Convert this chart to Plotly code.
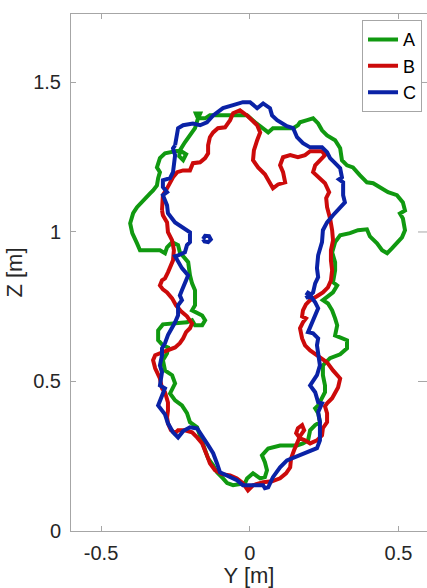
import plotly.graph_objects as go

# ---------------- data (Y, Z in metres) ----------------
a_y = [-0.174,-0.150,-0.134,-0.110,-0.056,-0.009,0.018,0.045,0.062,0.078,0.102,0.146,0.162,0.169,0.193,0.213,
       0.230,0.243,0.260,0.287,0.304,0.310,0.327,0.347,0.370,0.394,0.415,0.445,0.465,0.495,0.515,0.522,0.505,
       0.515,0.522,0.512,0.495,0.478,0.462,0.445,0.428,0.404,0.394,0.364,0.337,0.304,0.287,0.277,0.287,0.287,
       0.280,0.294,0.280,0.260,0.246,0.263,0.277,0.287,0.294,0.287,0.304,0.327,0.327,0.304,0.270,0.246,0.246,
       0.253,0.253,0.243,0.230,0.220,0.230,0.236,0.220,0.203,0.196,0.179,0.159,0.102,0.062,0.041,0.051,0.058,
       0.051,0.035,0.011,-0.009,-0.016,-0.056,-0.076,-0.090,-0.110,-0.123,-0.140,-0.150,-0.160,-0.167,-0.177,
       -0.201,-0.211,-0.228,-0.251,-0.268,-0.261,-0.251,-0.261,-0.285,-0.292,-0.278,-0.275,-0.292,-0.308,-0.308,
       -0.292,-0.258,-0.211,-0.194,-0.184,-0.160,-0.150,-0.160,-0.177,-0.194,-0.184,-0.184,-0.194,-0.201,-0.207,
       -0.218,-0.235,-0.241,-0.261,-0.278,-0.285,-0.302,-0.345,-0.369,-0.379,-0.395,-0.402,-0.392,-0.379,-0.359,
       -0.335,-0.325,-0.312,-0.308,-0.302,-0.312,-0.302,-0.285,-0.261,-0.235,-0.214,-0.224,-0.237,-0.235,-0.218,
       -0.201,-0.184,-0.174,-0.181,-0.167,-0.174]
a_z = [1.380,1.380,1.390,1.390,1.390,1.390,1.367,1.347,1.333,1.347,1.347,1.347,1.357,1.367,1.374,1.380,
       1.363,1.340,1.323,1.307,1.280,1.240,1.223,1.216,1.190,1.166,1.163,1.146,1.133,1.123,1.099,1.072,1.062,
       1.045,1.006,0.982,0.962,0.945,0.929,0.939,0.962,0.985,1.009,1.006,0.996,0.989,0.966,0.932,0.899,0.872,
       0.832,0.821,0.798,0.782,0.772,0.761,0.738,0.711,0.688,0.654,0.648,0.638,0.611,0.591,0.578,0.554,0.521,
       0.487,0.464,0.444,0.420,0.410,0.394,0.364,0.354,0.337,0.303,0.293,0.286,0.286,0.276,0.253,0.230,0.203,
       0.180,0.176,0.193,0.176,0.160,0.153,0.160,0.176,0.196,0.220,0.243,0.270,0.296,0.320,0.347,
       0.364,0.394,0.420,0.437,0.460,0.477,0.494,0.521,0.537,0.571,0.594,0.614,0.621,0.638,0.671,
       0.691,0.694,0.698,0.705,0.688,0.688,0.705,0.721,0.731,0.738,0.755,0.805,0.828,0.855,0.899,
       0.912,0.932,0.956,0.966,0.949,0.929,0.939,0.939,0.939,0.962,0.996,1.029,1.063,1.083,1.106,
       1.129,1.139,1.156,1.180,1.200,1.216,1.247,1.263,1.267,1.273,1.260,1.240,1.253,1.273,1.300,
       1.323,1.347,1.380,1.396,1.396,1.380]

b_y = [-0.295,-0.295,-0.292,-0.278,-0.268,-0.258,-0.244,-0.224,-0.201,-0.191,-0.167,-0.150,-0.140,-0.140,
       -0.134,-0.123,-0.107,-0.083,-0.066,-0.056,-0.033,-0.006,0.025,0.035,0.025,0.014,0.011,0.028,0.051,0.062,
       0.078,0.095,0.119,0.112,0.102,0.112,0.136,0.162,0.186,0.203,0.243,0.253,0.236,0.220,0.213,0.230,0.253,
       0.267,0.257,0.260,0.270,0.277,0.280,0.273,0.273,0.277,0.273,0.263,0.246,0.226,0.203,0.189,0.179,0.176,
       0.189,0.179,0.169,0.176,0.186,0.203,0.220,0.236,0.260,0.280,0.304,0.297,0.287,0.277,0.260,0.253,0.260,
       0.260,0.246,0.243,0.226,0.203,0.186,0.169,0.156,0.162,0.176,0.183,0.169,0.159,0.149,0.139,0.136,0.122,
       0.102,0.075,0.045,0.011,-0.006,-0.023,-0.043,-0.066,-0.093,-0.117,-0.134,-0.140,-0.150,-0.160,-0.177,
       -0.194,-0.218,-0.241,-0.251,-0.265,-0.275,-0.278,-0.275,-0.275,-0.285,-0.295,-0.302,-0.318,-0.325,-0.318,
       -0.292,-0.275,-0.251,-0.235,-0.224,-0.214,-0.201,-0.194,-0.211,-0.231,-0.248,-0.261,-0.278,-0.292,-0.302,
       -0.295,-0.285,-0.275,-0.268,-0.258,-0.255,-0.261,-0.275,-0.278,-0.292,-0.295]
b_z = [1.072,1.099,1.123,1.146,1.163,1.183,1.200,1.206,1.206,1.230,1.233,1.247,1.263,1.290,1.317,1.333,
       1.347,1.350,1.374,1.397,1.407,1.387,1.357,1.333,1.307,1.273,1.240,1.216,1.193,1.173,1.146,1.159,1.166,
       1.200,1.223,1.250,1.257,1.250,1.257,1.270,1.270,1.257,1.240,1.223,1.200,1.183,1.163,1.133,1.113,1.083,
       1.046,1.006,0.972,0.939,0.905,0.872,0.838,0.815,0.798,0.785,0.772,0.758,0.738,0.718,0.711,0.698,0.678,
       0.644,0.621,0.604,0.591,0.581,0.564,0.537,0.510,0.480,0.464,0.444,0.427,0.417,0.394,0.364,0.344,0.320,
       0.303,0.293,0.303,0.310,0.327,0.344,0.354,0.337,0.317,0.296,0.270,0.243,0.213,0.193,0.176,0.166,0.163,
       0.153,0.136,0.160,0.176,0.186,0.190,0.203,0.226,0.243,0.266,0.293,0.313,0.330,0.337,0.337,0.327,0.337,
       0.360,0.380,0.403,0.430,0.464,0.477,0.510,0.544,0.571,0.588,0.598,0.604,0.614,0.628,0.644,0.665,0.678,
       0.694,0.718,0.735,0.755,0.778,0.798,0.808,0.821,0.838,0.845,0.865,0.885,0.905,0.939,0.972,0.999,1.032,
       1.056,1.072]

c_y = [-0.251,-0.244,-0.241,-0.224,-0.191,-0.167,-0.144,-0.123,-0.090,-0.056,-0.023,0.001,0.025,0.045,0.068,
       0.075,0.092,0.125,0.146,0.159,0.179,0.203,0.243,0.260,0.270,0.287,0.304,0.310,0.300,0.314,0.314,0.320,
       0.304,0.280,0.260,0.246,0.243,0.230,0.226,0.230,0.220,0.213,0.203,0.220,0.230,0.220,0.203,0.196,0.213,
       0.230,0.226,0.230,0.236,0.226,0.203,0.220,0.230,0.243,0.230,0.236,0.236,0.226,0.193,0.159,0.125,0.102,
       0.078,0.062,0.051,0.045,0.011,-0.023,-0.043,-0.076,-0.100,-0.110,-0.123,-0.140,-0.157,-0.177,-0.201,
       -0.224,-0.241,-0.258,-0.275,-0.285,-0.308,-0.295,-0.285,-0.302,-0.295,-0.302,-0.295,-0.295,-0.285,
       -0.275,-0.261,-0.251,-0.241,-0.241,-0.228,-0.235,-0.228,-0.218,-0.207,-0.228,-0.241,-0.251,-0.241,
       -0.218,-0.211,-0.201,-0.201,-0.224,-0.251,-0.275,-0.278,-0.292,-0.278,-0.292,-0.292,-0.268,-0.258,
       -0.251,-0.258,-0.251,
       None, -0.157,-0.150,-0.137,-0.131,-0.140,-0.152,-0.157,
       None, 0.190,0.196,0.204,0.203,0.194,0.190]
c_z = [1.290,1.323,1.347,1.357,1.363,1.357,1.367,1.390,1.414,1.424,1.434,1.434,1.414,1.430,1.414,1.390,
       1.374,1.354,1.347,1.317,1.297,1.283,1.283,1.267,1.247,1.230,1.213,1.183,1.176,1.166,1.123,1.099,1.083,
       1.056,1.032,1.006,0.966,0.922,0.879,0.849,0.828,0.798,0.788,0.765,0.745,0.721,0.688,0.665,0.661,0.644,
       0.621,0.588,0.554,0.521,0.487,0.464,0.430,0.427,0.397,0.364,0.303,0.277,0.263,0.247,0.236,0.213,0.180,
       0.146,0.143,0.153,0.153,0.153,0.170,0.186,0.196,0.226,0.260,0.287,0.313,0.343,0.347,0.334,0.313,0.330,
       0.360,0.390,0.420,0.454,0.477,0.487,0.531,0.554,0.588,0.611,0.628,0.655,0.678,0.698,0.721,0.755,0.772,
       0.788,0.805,0.828,0.855,0.879,0.899,0.919,0.922,0.932,0.956,0.966,0.999,1.016,1.032,1.063,1.089,1.123,
       1.133,1.150,1.173,1.180,1.200,1.257,1.280,1.290,
       None, 0.976,0.987,0.986,0.975,0.966,0.968,0.976,
       None, 0.788,0.797,0.792,0.782,0.781,0.788]

series_names = ["A", "B", "C"]
series_colors = ["#109910", "#cc0a0a", "#0a22a6"]

x_tickvals = [-0.5, 0, 0.5]
x_ticktext = ["-0.5", "0", "0.5"]
y_tickvals = [0, 0.5, 1, 1.5]
y_ticktext = ["0", "0.5", "1", "1.5"]

# ---------------- figure ----------------
FONT = "Liberation Sans, Arial, sans-serif"
AXC = "#a6a6a6"
TXT = "#262626"

fig = go.Figure()
for name, xs, zs, col in zip(series_names, [a_y, b_y, c_y], [a_z, b_z, c_z], series_colors):
    fig.add_trace(go.Scatter(x=xs, y=zs, mode="lines", name=name,
                             line=dict(color=col, width=4), connectgaps=False))

# right-side inward ticks (box axis)
for tv in y_tickvals[1:]:
    fig.add_shape(type="line", xref="paper", yref="y", x0=1 - 9 / 356, x1=1, y0=tv, y1=tv,
                  line=dict(color=AXC, width=1))

fig.update_layout(
    width=427, height=588,
    margin=dict(l=71, r=0, t=14, b=57),
    paper_bgcolor="white", plot_bgcolor="white",
    font=dict(family=FONT, size=20, color=TXT),
    showlegend=True,
    legend=dict(x=0.986, y=0.988, xanchor="right", yanchor="top",
                bgcolor="white", bordercolor=AXC, borderwidth=1,
                font=dict(size=18, color="black"), itemwidth=30,
                tracegroupgap=0),
    xaxis=dict(range=[-0.601, 0.596], tickvals=x_tickvals, ticktext=x_ticktext,
               ticks="inside", ticklen=5, tickcolor=AXC, showline=True, linecolor=AXC,
               linewidth=1, mirror="ticks", showgrid=False, zeroline=False,
               ticklabelstandoff=4,
               title=dict(text="Y [m]", font=dict(size=22), standoff=7)),
    yaxis=dict(range=[0, 1.729], tickvals=y_tickvals, ticktext=y_ticktext,
               ticks="inside", ticklen=5, tickcolor=AXC, showline=True, linecolor=AXC,
               linewidth=1, mirror=False, showgrid=False, zeroline=False,
               ticklabelstandoff=5,
               title=dict(text="Z [m]", font=dict(size=22), standoff=4)),
)

fig.write_html("out.html")
